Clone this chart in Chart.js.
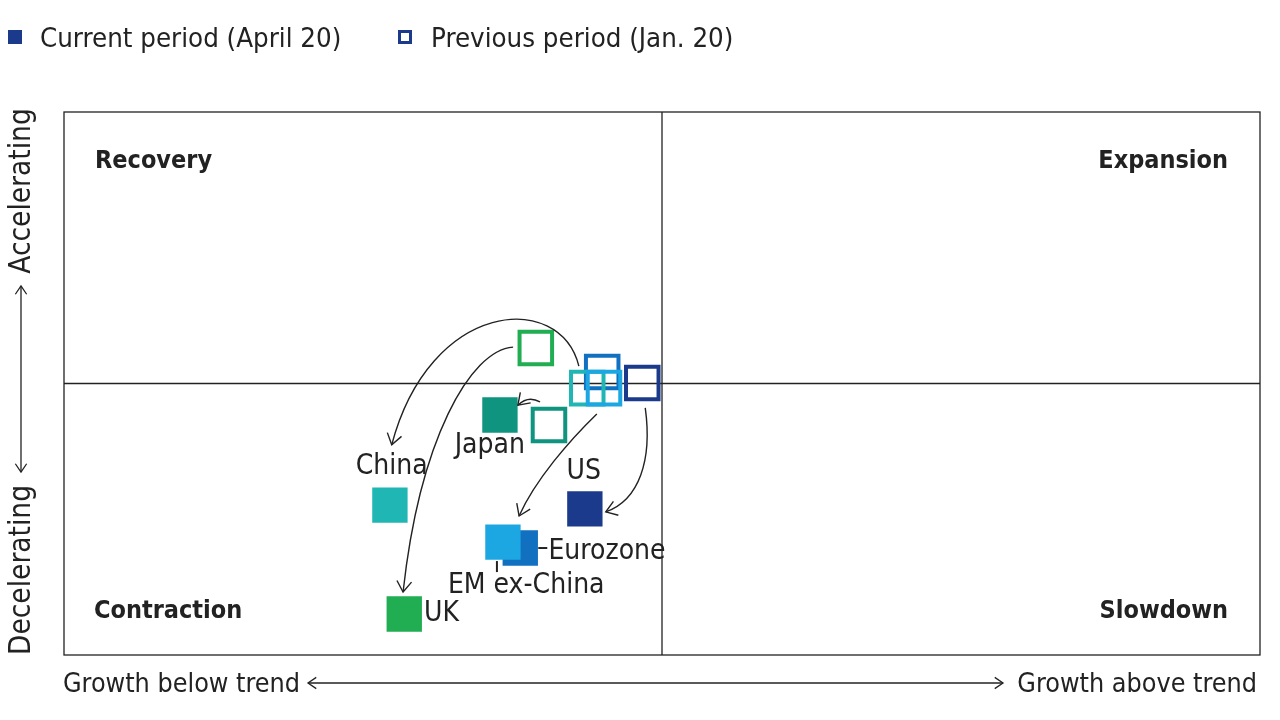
<!DOCTYPE html>
<html>
<head>
<meta charset="utf-8">
<script src="https://cdn.jsdelivr.net/npm/chart.js@4"></script>
<style>
  html, body { margin: 0; padding: 0; background: #fff; }
  #wrap { position: relative; width: 1280px; height: 720px; overflow: hidden;
          font-family: "Liberation Sans Narrow", "DejaVu Sans Condensed", sans-serif; color: #222; }
  #chart { position: absolute; left: 0; top: 0; }
  .txt { position: absolute; font-size: 27.4px; white-space: nowrap; line-height: 1; }
  .cap { font-size: 26.7px; }
  .sq { position: absolute; width: 14px; height: 14px; box-sizing: border-box; }
  .vtxt { position: absolute; font-size: 29.5px; white-space: nowrap; line-height: 1;
          transform: translate(-50%, -50%) rotate(-90deg); }
</style>
</head>
<body>
<div id="wrap">
  <canvas id="chart" width="1280" height="720"></canvas>

  <!-- legend -->
  <div class="sq" style="left:8px;top:30px;background:#1b3a8c"></div>
  <div class="txt" style="left:40px;top:24px">Current period (April 20)</div>
  <div class="sq" style="left:398px;top:30px;border:3px solid #1b3a8c"></div>
  <div class="txt" style="left:431px;top:24px">Previous period (Jan. 20)</div>

  <!-- axis captions -->
  <div class="txt cap" style="left:63px;top:670px">Growth below trend</div>
  <div class="txt cap" style="right:23px;top:670px">Growth above trend</div>
  <div class="vtxt" style="left:21px;top:191px">Accelerating</div>
  <div class="vtxt" style="left:21px;top:570px">Decelerating</div>
</div>

<script>
/* ---------------------------------------------------------------
   Data (x: growth vs trend, y: accelerating / decelerating)
   --------------------------------------------------------------- */
const countries = ["UK", "Japan", "Eurozone", "China", "EM ex-China", "US"];
const currentX  = [-43.1, -27.1, -23.7, -45.5, -26.6, -12.9];
const currentY  = [-84.9, -11.6, -60.6, -44.8, -58.4, -46.2];
const previousX = [-21.1, -18.9, -10.0, -12.5,  -9.7,  -3.3];
const previousY = [ 13.1, -15.3,   4.2,  -1.7,  -1.7,   0.2];

const countryColors = ["#21ad52", "#0f9480", "#1170c0", "#1fb6b3", "#1ca7e2", "#1b3a8c"];

// arrows from previous to current: [startX, startY, cp1X, cp1Y, cp2X, cp2Y, endX, endY]
const arrowPaths = [
    [-24.9, 13.4, -32.1, 12.3, -40.5, -20.8, -43.3, -76.8],   // UK
    [-20.4, -6.8, -21.8, -5.0, -23.0, -5.6, -24.1, -8.0],     // Japan
    [-13.9,  6.4, -17.1, 34.4, -38.8, 30.8, -45.2, -22.6],    // China
    [-10.9, -11.2, -15.4, -20.8, -21.2, -35.5, -23.9, -48.8], // EM ex-China
    [ -2.8, -9.0,  -1.6, -28.2,  -3.8, -42.9,  -9.4, -47.3]   // US
];

// country labels: [text, x, y, align]
const pointLabels = [
    ["Japan",       -28.8, -23.0, "center"],
    ["China",       -45.2, -30.8, "center"],
    ["US",          -13.1, -32.6, "center"],
    ["Eurozone",    -19.0, -61.8, "left"],
    ["EM ex-China", -35.8, -74.4, "left"],
    ["UK",          -39.8, -84.9, "left"]
];

const quadrantLabels = ["Recovery", "Expansion", "Contraction", "Slowdown"];

/* ---------------------------------------------------------------
   Plugins
   --------------------------------------------------------------- */
const FONT = '"Liberation Sans Narrow", "DejaVu Sans Condensed", sans-serif';

const framePlugin = {
    id: "framePlugin",
    beforeDatasetsDraw(chart) {
        const { ctx, chartArea: a, scales: { x, y } } = chart;
        ctx.save();
        ctx.strokeStyle = "#222";
        ctx.lineWidth = 1.3;
        ctx.strokeRect(a.left, a.top, a.right - a.left, a.bottom - a.top);
        const cx = x.getPixelForValue(0), cy = y.getPixelForValue(0);
        ctx.beginPath();
        ctx.moveTo(cx, a.top); ctx.lineTo(cx, a.bottom);
        ctx.moveTo(a.left, cy); ctx.lineTo(a.right, cy);
        ctx.stroke();

        // quadrant names
        ctx.fillStyle = "#222";
        ctx.font = "bold 25px " + FONT;
        ctx.textBaseline = "middle";
        ctx.textAlign = "left";
        ctx.fillText(quadrantLabels[0], a.left + 31, a.top + 49);
        ctx.fillText(quadrantLabels[2], a.left + 30, a.bottom - 44);
        ctx.textAlign = "right";
        ctx.fillText(quadrantLabels[1], a.right - 32, a.top + 49);
        ctx.fillText(quadrantLabels[3], a.right - 32, a.bottom - 44);

        // outer axis arrows
        ctx.lineWidth = 1.3;
        drawLine(ctx, 308, 683, 1003, 683);
        drawHead(ctx, 1003, 683, 0);
        drawHead(ctx, 308, 683, Math.PI);
        drawLine(ctx, 21, 286, 21, 472);
        drawHead(ctx, 21, 286, -Math.PI / 2);
        drawHead(ctx, 21, 472, Math.PI / 2);
        ctx.restore();
    }
};

function drawLine(ctx, x1, y1, x2, y2) {
    ctx.beginPath();
    ctx.moveTo(x1, y1);
    ctx.lineTo(x2, y2);
    ctx.stroke();
}

function drawHead(ctx, x, y, ang, len = 10) {
    ctx.beginPath();
    ctx.moveTo(x - len * Math.cos(ang - 0.6), y - len * Math.sin(ang - 0.6));
    ctx.lineTo(x, y);
    ctx.lineTo(x - len * Math.cos(ang + 0.6), y - len * Math.sin(ang + 0.6));
    ctx.stroke();
}

const annotatePlugin = {
    id: "annotatePlugin",
    afterDatasetsDraw(chart) {
        const { ctx, scales: { x, y } } = chart;
        ctx.save();
        ctx.strokeStyle = "#222";
        ctx.lineWidth = 1.4;
        arrowPaths.forEach(p => {
            const pts = [];
            for (let i = 0; i < 8; i += 2) pts.push([x.getPixelForValue(p[i]), y.getPixelForValue(p[i + 1])]);
            ctx.beginPath();
            ctx.moveTo(pts[0][0], pts[0][1]);
            ctx.bezierCurveTo(pts[1][0], pts[1][1], pts[2][0], pts[2][1], pts[3][0], pts[3][1]);
            ctx.stroke();
            const ang = Math.atan2(pts[3][1] - pts[2][1], pts[3][0] - pts[2][0]);
            drawHead(ctx, pts[3][0], pts[3][1], ang, 13);
        });

        ctx.fillStyle = "#222";
        ctx.font = "28px " + FONT;
        ctx.textBaseline = "middle";
        pointLabels.forEach(([t, lx, ly, al]) => {
            ctx.textAlign = al;
            ctx.fillText(t, x.getPixelForValue(lx), y.getPixelForValue(ly));
        });

        // leader ticks for Eurozone and EM ex-China
        const ez = countries.indexOf("Eurozone"), em = countries.indexOf("EM ex-China");
        ctx.lineWidth = 2;
        const ex = x.getPixelForValue(currentX[ez]) + 18, ey = y.getPixelForValue(currentY[ez]);
        drawLine(ctx, ex, ey, ex + 9, ey);
        const mx = x.getPixelForValue(currentX[em]) - 6, my = y.getPixelForValue(currentY[em]) + 19;
        drawLine(ctx, mx, my, mx, my + 11);
        ctx.restore();
    }
};

/* ---------------------------------------------------------------
   Chart
   --------------------------------------------------------------- */
const ctx = document.getElementById("chart").getContext("2d");

new Chart(ctx, {
    type: "scatter",
    data: {
        datasets: [
            {
                label: "Current period (April 20)",
                data: countries.map((c, i) => ({ x: currentX[i], y: currentY[i] })),
                pointStyle: "rect",
                pointRadius: 25,
                pointBackgroundColor: countryColors,
                pointBorderColor: countryColors,
                pointBorderWidth: 0
            },
            {
                label: "Previous period (Jan. 20)",
                data: countries.map((c, i) => ({ x: previousX[i], y: previousY[i] })),
                pointStyle: "rect",
                pointRadius: 23,
                pointBackgroundColor: "rgba(255,255,255,0)",
                pointBorderColor: countryColors,
                pointBorderWidth: 4
            }
        ]
    },
    options: {
        responsive: false,
        animation: false,
        devicePixelRatio: 1,
        layout: { autoPadding: false, padding: { left: 64, right: 20, top: 112, bottom: 65 } },
        plugins: { legend: { display: false }, tooltip: { enabled: false } },
        scales: {
            x: { display: false, min: -100, max: 100 },
            y: { display: false, min: -100, max: 100 }
        }
    },
    plugins: [framePlugin, annotatePlugin]
});
</script>
</body>
</html>
